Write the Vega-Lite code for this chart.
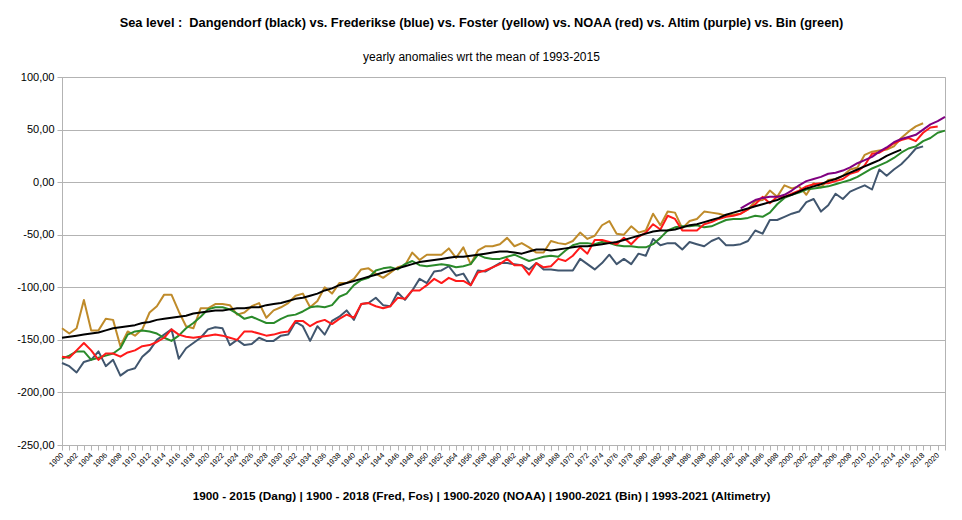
{
"$schema": "https://vega.github.io/schema/vega-lite/v6.json",
"width": 883, "height": 368,
"autosize": "none",
"padding": {"left": 62, "top": 77, "right": 17, "bottom": 75},
"background": "white",
"config": {"view": {"stroke": "#b3b3b3"}, "font": "Liberation Sans"},
"title": {"text": "Sea level :\u00a0 Dangendorf (black) vs. Frederikse (blue) vs. Foster (yellow) vs. NOAA (red) vs. Altim (purple) vs. Bin (green)", "subtitle": "yearly anomalies wrt the mean of 1993-2015", "anchor": "middle", "dx": -22, "font": "Liberation Sans", "fontSize": 12.8, "fontWeight": "bold", "color": "#000", "subtitleFont": "Liberation Sans", "subtitleFontSize": 12, "subtitleColor": "#000", "subtitlePadding": 22, "offset": 8},
"data": {"values": [
{"y":1900,"d":-148,"f":-172,"o":-139,"n":-166,"b":-168},
{"y":1901,"d":-147,"f":-175,"o":-144,"n":-167,"b":-165},
{"y":1902,"d":-146,"f":-181,"o":-139,"n":-160,"b":-161},
{"y":1903,"d":-145,"f":-171,"o":-112,"n":-153,"b":-161},
{"y":1904,"d":-144,"f":-169,"o":-141,"n":-160,"b":-169},
{"y":1905,"d":-143,"f":-161,"o":-141,"n":-169,"b":-167},
{"y":1906,"d":-141,"f":-175,"o":-130,"n":-163,"b":-165},
{"y":1907,"d":-139,"f":-169,"o":-131,"n":-163,"b":-163},
{"y":1908,"d":-138,"f":-184,"o":-156,"n":-166,"b":-158},
{"y":1909,"d":-137,"f":-179,"o":-142,"n":-162,"b":-145},
{"y":1910,"d":-136,"f":-177,"o":-146,"n":-160,"b":-142},
{"y":1911,"d":-134,"f":-166,"o":-140,"n":-156,"b":-141},
{"y":1912,"d":-133,"f":-160,"o":-124,"n":-155,"b":-142},
{"y":1913,"d":-131,"f":-150,"o":-118,"n":-152,"b":-144},
{"y":1914,"d":-130,"f":-145,"o":-107,"n":-148,"b":-148},
{"y":1915,"d":-129,"f":-140,"o":-107,"n":-140,"b":-151},
{"y":1916,"d":-128,"f":-168,"o":-123,"n":-145,"b":-146},
{"y":1917,"d":-127,"f":-158,"o":-137,"n":-147,"b":-139},
{"y":1918,"d":-125,"f":-153,"o":-139,"n":-148,"b":-134},
{"y":1919,"d":-124,"f":-148,"o":-120,"n":-147,"b":-128},
{"y":1920,"d":-123,"f":-140,"o":-120,"n":-146,"b":-121},
{"y":1921,"d":-122,"f":-138,"o":-116,"n":-145,"b":-119},
{"y":1922,"d":-122,"f":-139,"o":-116,"n":-146,"b":-119},
{"y":1923,"d":-121,"f":-155,"o":-117,"n":-148,"b":-121},
{"y":1924,"d":-120,"f":-150,"o":-126,"n":-150,"b":-125},
{"y":1925,"d":-120,"f":-155,"o":-124,"n":-142,"b":-130},
{"y":1926,"d":-119,"f":-154,"o":-118,"n":-142,"b":-128},
{"y":1927,"d":-119,"f":-148,"o":-115,"n":-144,"b":-131},
{"y":1928,"d":-117,"f":-151,"o":-129,"n":-146,"b":-134},
{"y":1929,"d":-116,"f":-151,"o":-122,"n":-145,"b":-134},
{"y":1930,"d":-115,"f":-146,"o":-119,"n":-143,"b":-130},
{"y":1931,"d":-113,"f":-145,"o":-115,"n":-142,"b":-127},
{"y":1932,"d":-111,"f":-133,"o":-108,"n":-132,"b":-126},
{"y":1933,"d":-110,"f":-137,"o":-106,"n":-132,"b":-123},
{"y":1934,"d":-108,"f":-151,"o":-119,"n":-137,"b":-119},
{"y":1935,"d":-106,"f":-137,"o":-113,"n":-133,"b":-118},
{"y":1936,"d":-103,"f":-145,"o":-100,"n":-131,"b":-119},
{"y":1937,"d":-101,"f":-132,"o":-106,"n":-135,"b":-117},
{"y":1938,"d":-98,"f":-128,"o":-96,"n":-130,"b":-109},
{"y":1939,"d":-96,"f":-122,"o":-96,"n":-126,"b":-106},
{"y":1940,"d":-94,"f":-131,"o":-92,"n":-129,"b":-98},
{"y":1941,"d":-92,"f":-116,"o":-83,"n":-116,"b":-93},
{"y":1942,"d":-90,"f":-115,"o":-82,"n":-115,"b":-91},
{"y":1943,"d":-88,"f":-110,"o":-87,"n":-118,"b":-84},
{"y":1944,"d":-86,"f":-117,"o":-91,"n":-120,"b":-82},
{"y":1945,"d":-84,"f":-118,"o":-86,"n":-118,"b":-81},
{"y":1946,"d":-82,"f":-105,"o":-81,"n":-110,"b":-83},
{"y":1947,"d":-80,"f":-112,"o":-79,"n":-111,"b":-78},
{"y":1948,"d":-78,"f":-103,"o":-67,"n":-103,"b":-75},
{"y":1949,"d":-76,"f":-92,"o":-74,"n":-103,"b":-79},
{"y":1950,"d":-75,"f":-96,"o":-69,"n":-98,"b":-80},
{"y":1951,"d":-74,"f":-85,"o":-69,"n":-92,"b":-79},
{"y":1952,"d":-73,"f":-84,"o":-69,"n":-96,"b":-78},
{"y":1953,"d":-72,"f":-80,"o":-63,"n":-91,"b":-79},
{"y":1954,"d":-71,"f":-89,"o":-72,"n":-94,"b":-81},
{"y":1955,"d":-71,"f":-87,"o":-62,"n":-94,"b":-80},
{"y":1956,"d":-70,"f":-98,"o":-78,"n":-98,"b":-78},
{"y":1957,"d":-69,"f":-84,"o":-65,"n":-86,"b":-69},
{"y":1958,"d":-68,"f":-85,"o":-61,"n":-84,"b":-72},
{"y":1959,"d":-67,"f":-81,"o":-61,"n":-81,"b":-73},
{"y":1960,"d":-66,"f":-77,"o":-59,"n":-78,"b":-73},
{"y":1961,"d":-66,"f":-77,"o":-53,"n":-73,"b":-71},
{"y":1962,"d":-67,"f":-78,"o":-61,"n":-79,"b":-69},
{"y":1963,"d":-68,"f":-79,"o":-58,"n":-79,"b":-72},
{"y":1964,"d":-66,"f":-83,"o":-62,"n":-88,"b":-75},
{"y":1965,"d":-64,"f":-77,"o":-67,"n":-77,"b":-73},
{"y":1966,"d":-64,"f":-83,"o":-67,"n":-81,"b":-71},
{"y":1967,"d":-65,"f":-83,"o":-56,"n":-80,"b":-70},
{"y":1968,"d":-64,"f":-84,"o":-58,"n":-73,"b":-71},
{"y":1969,"d":-63,"f":-84,"o":-59,"n":-75,"b":-65},
{"y":1970,"d":-62,"f":-84,"o":-56,"n":-70,"b":-60},
{"y":1971,"d":-61,"f":-73,"o":-48,"n":-62,"b":-58},
{"y":1972,"d":-61,"f":-78,"o":-54,"n":-68,"b":-58},
{"y":1973,"d":-60,"f":-83,"o":-51,"n":-55,"b":-59},
{"y":1974,"d":-59,"f":-77,"o":-41,"n":-55,"b":-57},
{"y":1975,"d":-58,"f":-69,"o":-37,"n":-57,"b":-58},
{"y":1976,"d":-57,"f":-78,"o":-49,"n":-59,"b":-60},
{"y":1977,"d":-55,"f":-73,"o":-50,"n":-53,"b":-61},
{"y":1978,"d":-53,"f":-78,"o":-42,"n":-59,"b":-61},
{"y":1979,"d":-51,"f":-68,"o":-48,"n":-52,"b":-62},
{"y":1980,"d":-49,"f":-70,"o":-46,"n":-48,"b":-62},
{"y":1981,"d":-47,"f":-54,"o":-30,"n":-40,"b":-59},
{"y":1982,"d":-46,"f":-60,"o":-41,"n":-45,"b":-53},
{"y":1983,"d":-46,"f":-58,"o":-28,"n":-32,"b":-46},
{"y":1984,"d":-45,"f":-58,"o":-29,"n":-35,"b":-43},
{"y":1985,"d":-43,"f":-64,"o":-44,"n":-46,"b":-42},
{"y":1986,"d":-41,"f":-57,"o":-37,"n":-46,"b":-42},
{"y":1987,"d":-40,"f":-59,"o":-35,"n":-46,"b":-41},
{"y":1988,"d":-38,"f":-61,"o":-28,"n":-40,"b":-43},
{"y":1989,"d":-36,"f":-56,"o":-29,"n":-38,"b":-42},
{"y":1990,"d":-34,"f":-53,"o":-30,"n":-35,"b":-39},
{"y":1991,"d":-31,"f":-60,"o":-32,"n":-33,"b":-36},
{"y":1992,"d":-29,"f":-60,"o":-31,"n":-32,"b":-35},
{"y":1993,"d":-27,"f":-59,"o":-30,"n":-30,"a":-25,"b":-35},
{"y":1994,"d":-25,"f":-56,"o":-26,"n":-26,"a":-21,"b":-34},
{"y":1995,"d":-23,"f":-46,"o":-18,"n":-21,"a":-17,"b":-32},
{"y":1996,"d":-21,"f":-49,"o":-17,"n":-14,"a":-15,"b":-33},
{"y":1997,"d":-19,"f":-36,"o":-8,"n":-20,"a":-14,"b":-29},
{"y":1998,"d":-17,"f":-36,"o":-14,"n":-14,"a":-14,"b":-21},
{"y":1999,"d":-14,"f":-33,"o":-3,"n":-14,"a":-12,"b":-15},
{"y":2000,"d":-12,"f":-30,"o":-6,"n":-11,"a":-8,"b":-12},
{"y":2001,"d":-9,"f":-28,"o":-4,"n":-8,"a":-3,"b":-10},
{"y":2002,"d":-6,"f":-19,"o":-12,"n":-4,"a":1,"b":-7},
{"y":2003,"d":-4,"f":-16,"o":-1,"n":-2,"a":3,"b":-6},
{"y":2004,"d":-2,"f":-28,"o":-5,"n":-1,"a":5,"b":-5},
{"y":2005,"d":1,"f":-22,"o":2,"n":-1,"a":8,"b":-4},
{"y":2006,"d":3,"f":-11,"o":3,"n":1,"a":9,"b":-2},
{"y":2007,"d":6,"f":-16,"o":6,"n":3,"a":11,"b":0},
{"y":2008,"d":9,"f":-9,"o":12,"n":8,"a":14,"b":2},
{"y":2009,"d":12,"f":-6,"o":14,"n":10,"a":18,"b":5},
{"y":2010,"d":15,"f":-3,"o":26,"n":16,"a":21,"b":9},
{"y":2011,"d":18,"f":-7,"o":29,"n":27,"a":24,"b":13},
{"y":2012,"d":21,"f":12,"o":30,"n":28,"a":29,"b":16},
{"y":2013,"d":25,"f":6,"o":31,"n":32,"a":33,"b":19},
{"y":2014,"d":28,"f":12,"o":34,"n":37,"a":38,"b":23},
{"y":2015,"d":31,"f":17,"o":42,"n":40,"a":41,"b":28},
{"y":2016,"f":24,"o":48,"n":42,"a":43,"b":32},
{"y":2017,"f":32,"o":53,"n":39,"a":45,"b":34},
{"y":2018,"f":34,"o":56,"n":47,"a":50,"b":39},
{"y":2019,"n":52,"a":55,"b":42},
{"y":2020,"n":53,"a":58,"b":47},
{"y":2021,"a":62,"b":49}
]},
"transform": [{"fold": ["f", "o", "b", "n", "d", "a"], "as": ["series", "value"]}],
"mark": {"type": "line", "interpolate": "linear", "strokeJoin": "round"},
"encoding": {
  "x": {"field": "y", "type": "quantitative", "scale": {"domain": [1900, 2021], "nice": false, "zero": false},
    "axis": {"values": [1900,1901,1902,1903,1904,1905,1906,1907,1908,1909,1910,1911,1912,1913,1914,1915,1916,1917,1918,1919,1920,1921,1922,1923,1924,1925,1926,1927,1928,1929,1930,1931,1932,1933,1934,1935,1936,1937,1938,1939,1940,1941,1942,1943,1944,1945,1946,1947,1948,1949,1950,1951,1952,1953,1954,1955,1956,1957,1958,1959,1960,1961,1962,1963,1964,1965,1966,1967,1968,1969,1970,1971,1972,1973,1974,1975,1976,1977,1978,1979,1980,1981,1982,1983,1984,1985,1986,1987,1988,1989,1990,1991,1992,1993,1994,1995,1996,1997,1998,1999,2000,2001,2002,2003,2004,2005,2006,2007,2008,2009,2010,2011,2012,2013,2014,2015,2016,2017,2018,2019,2020,2021],
      "format": "d", "labelExpr": "datum.value % 2 == 0 ? datum.label : ''", "labelAngle": -45, "labelAlign": "right", "labelBaseline": "middle",
      "labelFont": "Liberation Sans", "labelFontSize": 7.5, "labelColor": "#000", "labelOverlap": false, "labelBound": false, "labelFlush": false, "labelPadding": 4,
      "tickSize": 5, "tickColor": "#b3b3b3", "domainColor": "#b3b3b3", "grid": false,
      "title": "1900 - 2015 (Dang) | 1900 - 2018 (Fred, Fos) | 1900-2020 (NOAA) | 1900-2021 (Bin) | 1993-2021 (Altimetry)",
      "titleFont": "Liberation Sans", "titleFontSize": 11.8, "titleFontWeight": "bold", "titleColor": "#000", "titleX": 419, "titleY": 45, "titleAlign": "center", "titleBaseline": "top"}},
  "y": {"field": "value", "type": "quantitative", "scale": {"domain": [-250, 100], "nice": false, "zero": false},
    "axis": {"values": [-250,-200,-150,-100,-50,0,50,100], "labelExpr": "replace(replace(format(datum.value,'.2f'),'.',','),'\u2212','-')", "title": null,
      "grid": true, "gridColor": "#b3b3b3", "domainColor": "#b3b3b3", "tickColor": "#b3b3b3", "tickSize": 5,
      "labelFont": "Liberation Sans", "labelFontSize": 11, "labelColor": "#000", "labelPadding": 3}},
  "color": {"field": "series", "type": "nominal", "legend": null,
    "scale": {"domain": ["f", "o", "b", "n", "d", "a"], "range": ["#41566e", "#bf8b2a", "#2a8a2a", "#ff1a1a", "#000000", "#800080"]}},
  "strokeWidth": {"field": "series", "type": "nominal", "legend": null,
    "scale": {"domain": ["f", "o", "b", "n", "d", "a"], "range": [2, 2, 2, 2, 2, 3.5]}}
}
}
